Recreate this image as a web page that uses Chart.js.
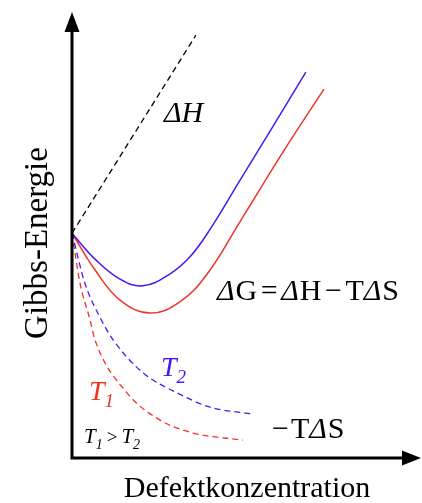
<!DOCTYPE html>
<html>
<head>
<meta charset="utf-8">
<script src="https://cdn.jsdelivr.net/npm/chart.js@4.4.0/dist/chart.umd.min.js"></script>
<style>
  html, body { margin: 0; padding: 0; background: #fff; }
  #wrap { width: 422px; height: 503px; position: relative; }
</style>
</head>
<body>
<div id="wrap"><canvas id="gibbsChart"></canvas></div>
<script>
// Defektkonzentration (x) und Energie (y), beliebige Einheiten 0..10
const dhX = [0, 3.56];
const dhY = [5.04, 9.48];

// ΔG bei T2 (blau) und T1 (rot)
const g2X = [0, 0.66, 1.38, 2.04, 2.82, 3.39, 3.97, 4.83, 5.78, 6.72];
const g2Y = [5.04, 4.46, 4.01, 3.86, 4.13, 4.51, 5.13, 6.23, 7.44, 8.65];
const g1X = [0, 0.66, 1.38, 2.24, 3.10, 3.88, 4.83, 6.03, 7.24];
const g1Y = [5.04, 4.22, 3.54, 3.25, 3.50, 4.12, 5.30, 6.82, 8.27];

// -TΔS bei T2 (blau) und T1 (rot)
const s2X = [0, 0.37, 0.80, 1.18, 2.04, 3.02, 3.97, 5.17];
const s2Y = [5.04, 3.92, 3.16, 2.65, 1.91, 1.46, 1.14, 0.99];
const s1X = [0, 0.23, 0.52, 0.66, 1.58, 2.53, 3.48, 4.91];
const s1Y = [5.04, 3.92, 3.09, 2.65, 1.46, 0.85, 0.56, 0.40];

const BLUE = '#4b17f5';
const RED = '#ee3524';
const SERIF = '"Liberation Serif", serif';

function pts(xs, ys) {
    return xs.map((x, i) => ({ x: x, y: ys[i] }));
}

function line(label, xs, ys, color, dashed) {
    const ds = {
        label: label,
        data: pts(xs, ys),
        borderColor: color,
        borderWidth: dashed ? 1.3 : 1.5,
        borderDash: dashed ? [6, 4] : [],
        pointRadius: 0,
        fill: false
    };
    // gestrichelte Kurven monoton, durchgezogene als weiche Spline
    if (dashed) ds.cubicInterpolationMode = 'monotone';
    else ds.tension = 0.4;
    return ds;
}

// Text aus mehreren Stücken (kursiv/normal, Index) hintereinander zeichnen
function drawRuns(ctx, x, y, runs) {
    ctx.textBaseline = 'alphabetic';
    ctx.textAlign = 'left';
    runs.forEach(r => {
        ctx.font = (r.italic ? 'italic ' : 'normal ') + r.size + 'px ' + SERIF;
        ctx.fillStyle = r.color || '#000';
        ctx.fillText(r.t, x, y + (r.dy || 0));
        x += ctx.measureText(r.t).width + (r.gap || 0);
    });
}

const decor = {
    id: 'decor',
    afterDraw(chart) {
        const ctx = chart.ctx;
        const a = chart.chartArea;
        const ox = a.left, oy = a.bottom;
        ctx.save();

        // Achsen mit Pfeilspitzen
        ctx.strokeStyle = '#000';
        ctx.fillStyle = '#000';
        ctx.lineWidth = 3;
        ctx.beginPath();
        ctx.moveTo(ox, oy + 1.5);
        ctx.lineTo(ox, a.top + 16);
        ctx.moveTo(ox - 1.5, oy);
        ctx.lineTo(a.right - 14, oy);
        ctx.stroke();
        ctx.beginPath();
        ctx.moveTo(ox, a.top);
        ctx.lineTo(ox - 7.5, a.top + 20);
        ctx.lineTo(ox + 7.5, a.top + 20);
        ctx.closePath();
        ctx.fill();
        ctx.beginPath();
        ctx.moveTo(a.right + 1, oy);
        ctx.lineTo(a.right - 18, oy - 7.5);
        ctx.lineTo(a.right - 18, oy + 7.5);
        ctx.closePath();
        ctx.fill();

        // Achsentitel
        ctx.fillStyle = '#000';
        ctx.textAlign = 'center';
        ctx.textBaseline = 'alphabetic';
        ctx.font = 'normal 30px ' + SERIF;
        ctx.fillText('Defektkonzentration', 247, 497);
        ctx.save();
        ctx.translate(47, 243);
        ctx.rotate(-Math.PI / 2);
        ctx.font = 'normal 33px ' + SERIF;
        ctx.fillText('Gibbs-Energie', 0, 0);
        ctx.restore();

        // Beschriftungen der Kurven
        drawRuns(ctx, 164, 122, [
            { t: 'Δ', italic: true, size: 30 },
            { t: 'H', italic: true, size: 30 }
        ]);
        drawRuns(ctx, 217, 300, [
            { t: 'Δ', italic: true, size: 30, gap: 1 },
            { t: 'G', size: 30, gap: 3.5 },
            { t: '=', size: 30, gap: 3.5 },
            { t: 'Δ', italic: true, size: 30, gap: 1 },
            { t: 'H', size: 30, gap: 3.5 },
            { t: '−', size: 30, gap: 3.5 },
            { t: 'T', size: 30 },
            { t: 'Δ', italic: true, size: 30, gap: 1 },
            { t: 'S', size: 30 }
        ]);
        drawRuns(ctx, 272, 438, [
            { t: '−', size: 30, gap: 2 },
            { t: 'T', size: 30 },
            { t: 'Δ', italic: true, size: 30, gap: 1 },
            { t: 'S', size: 30 }
        ]);
        drawRuns(ctx, 161, 376, [
            { t: 'T', italic: true, size: 28, color: BLUE },
            { t: '2', italic: true, size: 19, dy: 7, color: BLUE }
        ]);
        drawRuns(ctx, 89, 400, [
            { t: 'T', italic: true, size: 28, color: RED },
            { t: '1', italic: true, size: 19, dy: 7, color: RED }
        ]);
        drawRuns(ctx, 84, 443, [
            { t: 'T', italic: true, size: 21 },
            { t: '1', italic: true, size: 14, dy: 6, gap: 4 },
            { t: '>', size: 19, gap: 4 },
            { t: 'T', italic: true, size: 21 },
            { t: '2', italic: true, size: 14, dy: 6 }
        ]);
        ctx.restore();
    }
};

new Chart(document.getElementById('gibbsChart'), {
    type: 'line',
    data: {
        datasets: [
            line('ΔH', dhX, dhY, '#000', true),
            line('ΔG T2', g2X, g2Y, BLUE, false),
            line('ΔG T1', g1X, g1Y, RED, false),
            line('-TΔS T2', s2X, s2Y, BLUE, true),
            line('-TΔS T1', s1X, s1Y, RED, true)
        ]
    },
    options: {
        responsive: true,
        maintainAspectRatio: false,
        animation: false,
        layout: { padding: { left: 72, right: 2, top: 12, bottom: 45 } },
        plugins: {
            legend: { display: false },
            tooltip: { enabled: false }
        },
        scales: {
            x: { type: 'linear', min: 0, max: 10, display: false },
            y: { type: 'linear', min: 0, max: 10, display: false }
        }
    },
    plugins: [decor]
});
</script>
</body>
</html>
